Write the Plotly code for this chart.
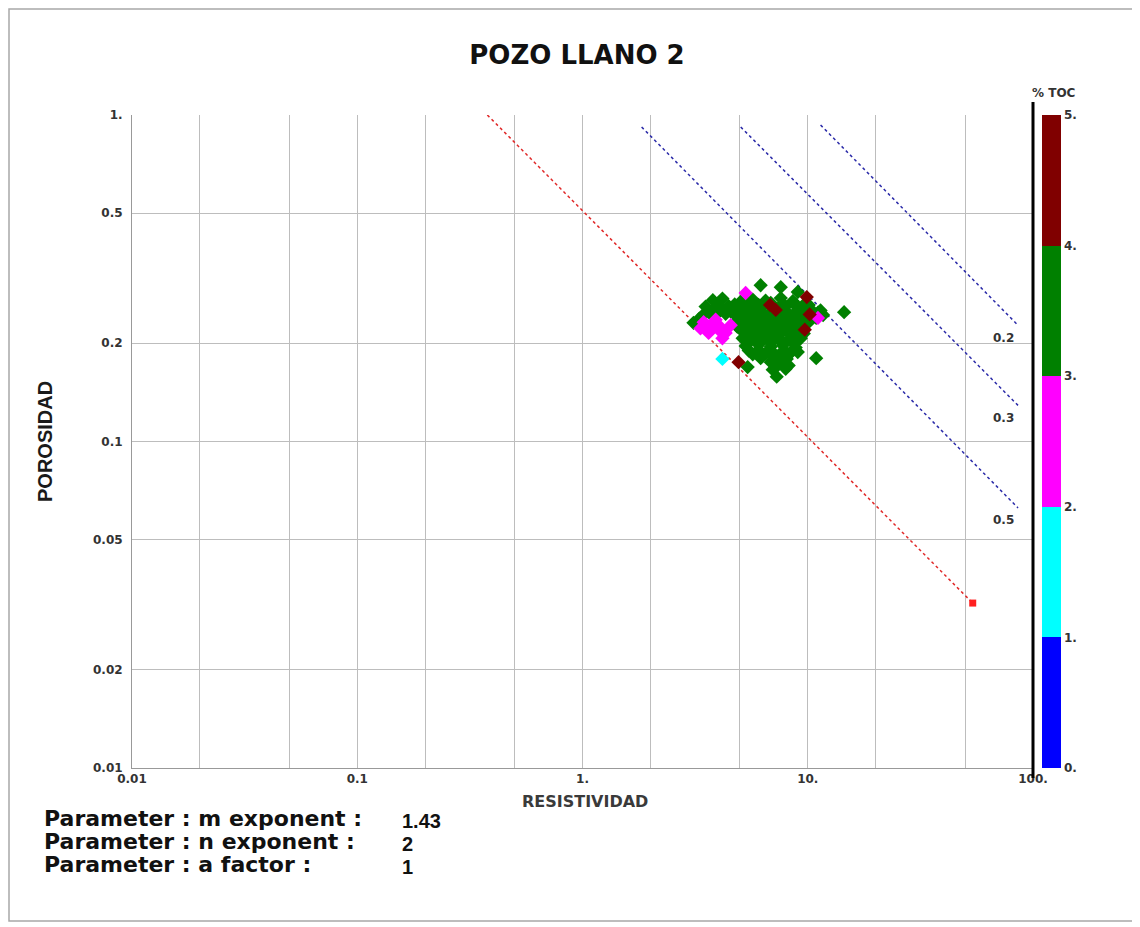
import math
import plotly.graph_objects as go

# ---------------- data ----------------
title_text = "POZO LLANO 2"

x_grid = [0.01, 0.02, 0.05, 0.1, 0.2, 0.5, 1, 2, 5, 10, 20, 50, 100]
x_ticktext = ["0.01", "", "", "0.1", "", "", "1.", "", "", "10.", "", "", "100."]
y_grid = [0.01, 0.02, 0.05, 0.1, 0.2, 0.5, 1]
y_ticktext = ["0.01", "0.02", "0.05", "0.1", "0.2", "0.5", "1."]

toc_ticks = [0, 1, 2, 3, 4, 5]
toc_ticktext = ["0.", "1.", "2.", "3.", "4.", "5."]

# Archie lines (end points)
ro_line_rt = [0.378, 54.0]
ro_line_phi = [1.0, 0.032]
sw_values = ["0.5", "0.3", "0.2"]
sw05_rt = [1.83, 85.8]
sw05_phi = [0.919, 0.0626]
sw03_rt = [5.04, 85.8]
sw03_phi = [0.919, 0.129]
sw02_rt = [11.4, 85.8]
sw02_phi = [0.932, 0.227]
sw_label_rt = [73.6, 73.6, 73.6]
sw_label_phi = [0.0575, 0.118, 0.207]

params = ["Parameter : m exponent :", "Parameter : n exponent :", "Parameter : a factor :"]
param_values = ["1.43", "2", "1"]

# Scatter points (resistivity, porosity, %TOC)
green_rt = [3.79, 4.18, 5.04, 5.70, 6.50, 7.59, 8.58, 9.80,
            3.98, 4.74, 5.36, 6.05, 6.85, 7.75, 8.84, 10.1,
            3.52, 3.90, 4.45, 5.04, 5.70, 6.30, 6.99, 7.98, 9.03, 10.3, 11.4,
            3.63, 4.10, 4.55, 5.04, 5.58, 6.18, 6.99, 7.90, 8.84, 9.90, 11.1,
            3.45, 3.79, 4.32, 4.79, 5.30, 5.87, 6.50, 7.44, 8.40, 9.31, 10.5, 11.7,
            5.04, 5.58, 6.18, 6.85, 7.67, 8.58, 9.60, 10.9,
            4.79, 5.30, 5.87, 6.50, 7.21, 8.15, 9.03, 10.1,
            4.86, 5.41, 5.95, 6.70, 7.44, 8.40, 9.45,
            5.04, 5.58, 6.18, 6.99, 7.75, 8.84,
            5.36, 5.90, 6.63, 7.51, 8.49, 9.60,
            5.14, 5.70, 6.30, 7.21, 8.23, 9.31,
            5.47, 6.05, 6.85, 7.75, 8.68,
            5.30, 6.05, 6.85, 7.75, 8.84,
            5.47, 6.05, 6.92, 7.90, 9.03,
            5.70, 6.50, 7.44, 8.40,
            6.18, 7.06, 8.07,
            6.85, 7.75,
            7.28, 8.23,
            6.99, 7.98,
            7.28,
            6.18, 7.59, 9.03, 14.5, 10.9, 5.41, 3.11, 3.30]
green_phi = [0.271, 0.274, 0.268, 0.272, 0.270, 0.275, 0.269, 0.266,
             0.264, 0.263, 0.265, 0.262, 0.266, 0.264, 0.263, 0.262,
             0.259, 0.257, 0.260, 0.256, 0.258, 0.261, 0.255, 0.259, 0.257, 0.254, 0.252,
             0.251, 0.252, 0.250, 0.251, 0.249, 0.252, 0.250, 0.251, 0.249, 0.250, 0.248,
             0.245, 0.242, 0.246, 0.243, 0.244, 0.247, 0.241, 0.245, 0.243, 0.246, 0.242, 0.244,
             0.238, 0.237, 0.239, 0.238, 0.236, 0.238, 0.237, 0.239,
             0.231, 0.233, 0.229, 0.232, 0.230, 0.231, 0.228, 0.232,
             0.225, 0.226, 0.224, 0.225, 0.223, 0.226, 0.224,
             0.220, 0.222, 0.219, 0.221, 0.218, 0.220,
             0.213, 0.214, 0.212, 0.213, 0.211, 0.214,
             0.207, 0.209, 0.206, 0.208, 0.205, 0.207,
             0.201, 0.202, 0.200, 0.201, 0.199,
             0.196, 0.198, 0.195, 0.197, 0.194,
             0.190, 0.191, 0.189, 0.190, 0.188,
             0.185, 0.186, 0.184, 0.187,
             0.180, 0.181, 0.179,
             0.175, 0.176,
             0.170, 0.171,
             0.166, 0.167,
             0.158,
             0.301, 0.297, 0.287, 0.249, 0.180, 0.169, 0.231, 0.238]
green_toc = [3.4, 3.6, 3.2, 3.5, 3.7, 3.3, 3.8, 3.4,
             3.5, 3.6, 3.3, 3.4, 3.7, 3.5, 3.2, 3.6,
             3.5, 3.1, 3.6, 3.3, 3.8, 3.2, 3.5, 3.7, 3.4, 3.6, 3.3,
             3.4, 3.5, 3.7, 3.3, 3.6, 3.4, 3.5, 3.2, 3.6, 3.7, 3.4,
             3.2, 3.5, 3.7, 3.4, 3.6, 3.3, 3.8, 3.5, 3.1, 3.4, 3.6, 3.7,
             3.5, 3.4, 3.6, 3.3, 3.7, 3.5, 3.4, 3.6,
             3.5, 3.3, 3.6, 3.2, 3.8, 3.4, 3.5, 3.7,
             3.4, 3.6, 3.5, 3.3, 3.7, 3.4, 3.5,
             3.3, 3.6, 3.4, 3.5, 3.2, 3.7,
             3.5, 3.4, 3.6, 3.5, 3.3, 3.6,
             3.6, 3.4, 3.5, 3.3, 3.8, 3.2,
             3.4, 3.5, 3.6, 3.4, 3.5,
             3.5, 3.4, 3.6, 3.3, 3.7,
             3.6, 3.5, 3.4, 3.5, 3.3,
             3.4, 3.5, 3.6, 3.3,
             3.5, 3.6, 3.4,
             3.5, 3.4,
             3.6, 3.5,
             3.6, 3.3,
             3.5,
             3.4, 3.6, 3.5, 3.3, 3.7, 3.4, 3.5, 3.6]

magenta_rt = [5.30, 3.45, 3.71, 4.02, 4.32, 3.63, 3.90, 4.55, 11.1, 4.18, 3.34, 3.55, 3.80, 4.10, 3.60]
magenta_phi = [0.285, 0.232, 0.226, 0.220, 0.215, 0.215, 0.236, 0.227, 0.239, 0.207, 0.222, 0.228, 0.230, 0.224, 0.220]
magenta_toc = [2.5, 2.6, 2.4, 2.7, 2.5, 2.3, 2.6, 2.4, 2.5, 2.7, 2.6, 2.4, 2.5, 2.6, 2.4]

darkred_rt = [9.9, 7.21, 9.7, 10.2, 4.93, 6.8]
darkred_phi = [0.277, 0.253, 0.220, 0.245, 0.175, 0.262]
darkred_toc = [4.4, 4.6, 4.3, 4.5, 4.2, 4.5]

cyan_rt = [4.18]
cyan_phi = [0.179]
cyan_toc = [1.5]

# ---------------- layout helpers (screen pixels) ----------------
OFF = 8                       # page body margin
W, H = 1140 - OFF, 927 - OFF  # figure size
PL, PT, PR, PB = 132, 115, 1033, 768   # plot area on screen
PW, PH = PR - PL, PB - PT
ML, MT = PL - OFF, PT - OFF
MR, MB = W - ML - PW, H - MT - PH


def px_x(p):
    return (p - PL) / PW


def px_y(p):
    return (PB - p) / PH


colorscale = [[0.0, "#0000FF"], [0.2, "#0000FF"],
              [0.2, "#00FFFF"], [0.4, "#00FFFF"],
              [0.4, "#FF00FF"], [0.6, "#FF00FF"],
              [0.6, "#008000"], [0.8, "#008000"],
              [0.8, "#800000"], [1.0, "#800000"]]

tick_font = dict(family="DejaVu Sans", size=12, color="#333333", weight="bold")

fig = go.Figure()

# Archie lines
line_blue = dict(color="#2a2aa8", width=1.5, dash="dot")
for rt, ph in [(sw05_rt, sw05_phi), (sw03_rt, sw03_phi), (sw02_rt, sw02_phi)]:
    fig.add_trace(go.Scatter(x=rt, y=ph, mode="lines", line=line_blue, hoverinfo="skip"))
fig.add_trace(go.Scatter(x=ro_line_rt, y=ro_line_phi, mode="lines",
                         line=dict(color="#e02828", width=1.5, dash="dot"), hoverinfo="skip"))
fig.add_trace(go.Scatter(x=[ro_line_rt[-1]], y=[ro_line_phi[-1]], mode="markers",
                         marker=dict(symbol="square", size=7, color="#ff2020"), hoverinfo="skip"))

all_rt = green_rt + magenta_rt + darkred_rt + cyan_rt
all_phi = green_phi + magenta_phi + darkred_phi + cyan_phi
all_toc = green_toc + magenta_toc + darkred_toc + cyan_toc

fig.add_trace(go.Scatter(
    x=all_rt, y=all_phi, mode="markers",
    marker=dict(symbol="diamond", size=11, color=all_toc, colorscale=colorscale,
                cmin=0, cmax=5, line=dict(width=0),
                colorbar=dict(x=px_x(1042), xanchor="left", y=0.5, yanchor="middle",
                              len=1, lenmode="fraction", thickness=19, thicknessmode="pixels",
                              outlinewidth=0, xpad=0, ypad=0,
                              tickvals=toc_ticks, ticktext=toc_ticktext, ticks="",
                              tickfont=tick_font)),
    hovertemplate="Rt=%{x}<br>Phi=%{y}<extra></extra>"))

fig.update_xaxes(type="log", range=[-2, 2], tickvals=x_grid, ticktext=x_ticktext,
                 showgrid=True, gridcolor="#bdbdbd", gridwidth=1,
                 showline=True, linecolor="#999999", linewidth=1, zeroline=False,
                 ticks="", tickfont=tick_font)
fig.update_yaxes(type="log", range=[-2, 0], tickvals=y_grid, ticktext=y_ticktext,
                 showgrid=True, gridcolor="#bdbdbd", gridwidth=1,
                 showline=True, linecolor="#999999", linewidth=1, zeroline=False,
                 ticks="outside", ticklen=6, tickcolor="rgba(0,0,0,0)", tickfont=tick_font)

annotations = []
annotations.append(dict(text="RESISTIVIDAD", xref="paper", yref="paper", x=px_x(585), y=px_y(801),
                        xanchor="center", yanchor="middle", showarrow=False,
                        font=dict(family="DejaVu Sans", size=16, color="#3a3a3a", weight="bold")))
annotations.append(dict(text="POROSIDAD", xref="paper", yref="paper", x=px_x(45), y=px_y(442),
                        xanchor="center", yanchor="middle", textangle=-90, showarrow=False,
                        font=dict(family="Liberation Sans Narrow, Liberation Sans", size=20, color="#1a1a1a", weight="bold")))
annotations.append(dict(text="% TOC", xref="paper", yref="paper", x=px_x(1054), y=px_y(93),
                        xanchor="center", yanchor="middle", showarrow=False,
                        font=dict(family="DejaVu Sans", size=12, color="#333333", weight="bold")))
for lab, rt, ph in zip(sw_values, sw_label_rt, sw_label_phi):
    annotations.append(dict(text=lab, xref="x", yref="y", x=math.log10(rt), y=math.log10(ph),
                            xanchor="center", yanchor="middle", showarrow=False,
                            font=dict(family="DejaVu Sans", size=12, color="#333333", weight="bold")))
row_y = [818, 841, 864]
for txt, val, py in zip(params, param_values, row_y):
    annotations.append(dict(text=txt, xref="paper", yref="paper", x=px_x(42), y=px_y(py),
                            xanchor="left", yanchor="middle", showarrow=False,
                            font=dict(family="DejaVu Sans", size=22, color="#111111", weight="bold")))
    annotations.append(dict(text=val, xref="paper", yref="paper", x=px_x(400), y=px_y(py + 3),
                            xanchor="left", yanchor="middle", showarrow=False,
                            font=dict(family="Liberation Sans", size=20, color="#111111", weight="bold")))

shapes = [
    dict(type="line", xref="paper", yref="paper", x0=1, x1=1, y0=px_y(778), y1=px_y(102),
         line=dict(color="#000000", width=3)),
    dict(type="rect", xref="paper", yref="paper", x0=px_x(9), x1=px_x(1134), y0=px_y(921), y1=px_y(9),
         line=dict(color="#a8a8a8", width=1.5)),
]

fig.update_layout(
    width=W, height=H,
    margin=dict(l=ML, r=MR, t=MT, b=MB),
    paper_bgcolor="white", plot_bgcolor="white",
    showlegend=False,
    title=dict(text=title_text, xref="paper", x=px_x(577), xanchor="center",
               yref="container", y=1 - (55 - OFF) / H, yanchor="middle",
               font=dict(family="DejaVu Sans", size=26, color="#111111", weight="bold")),
    annotations=annotations,
    shapes=shapes,
)

fig.write_html("out.html")
